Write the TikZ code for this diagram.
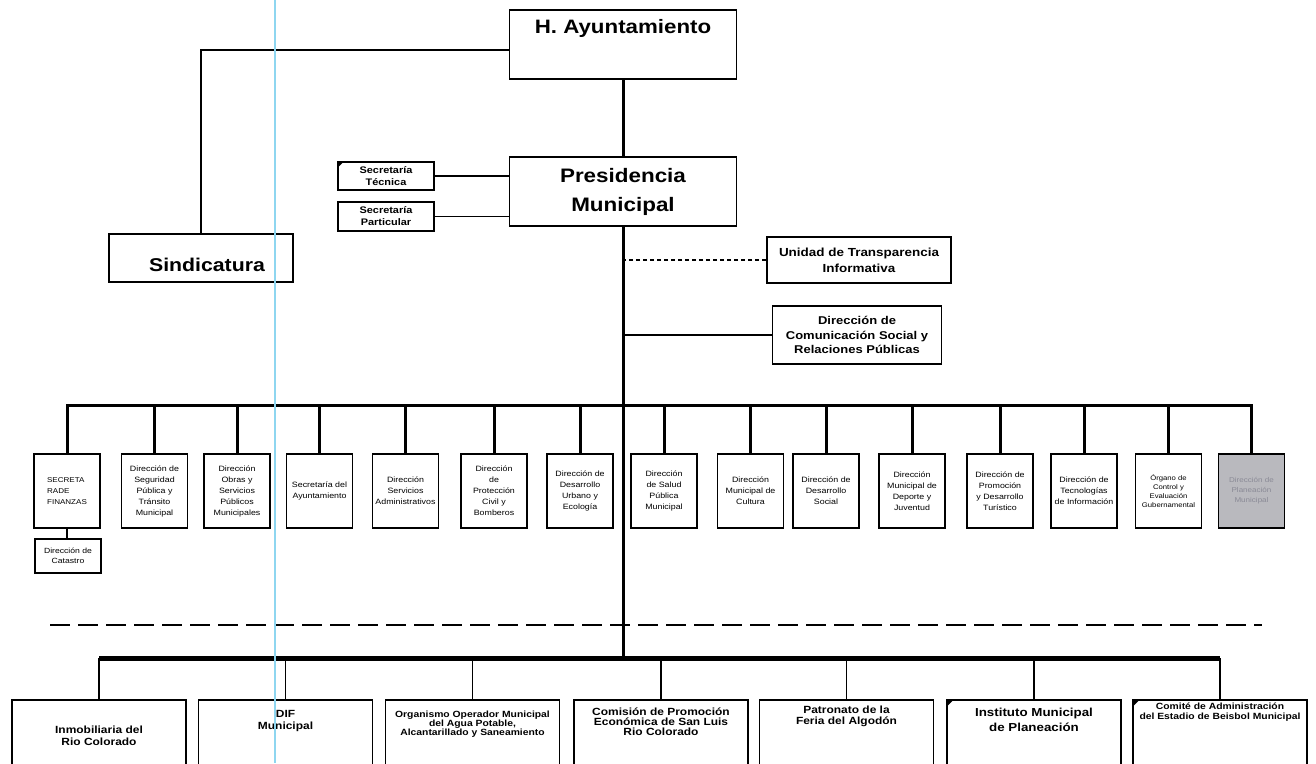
\documentclass[tikz,border=0pt]{standalone}
\usepackage{fontspec}
\setmainfont{Liberation Sans}[FakeStretch=1.15]
\definecolor{planfill}{HTML}{B9B9BE}
\definecolor{plantext}{HTML}{8A8A96}
\definecolor{scanblue}{HTML}{8ED6F0}

\begin{document}
\begin{tikzpicture}[x=1pt,y=-1pt,
    box/.style={draw,line width=1.6pt,inner sep=0pt,align=center},
    rowbox/.style={box,minimum width=66pt,minimum height=74pt,font=\fontsize{7.7}{11}\selectfont},
    parabox/.style={box,minimum width=174pt,minimum height=100pt},
    paratext/.style={anchor=north,inner sep=0pt,align=center,font=\bfseries\fontsize{10.4}{11.5}\selectfont},
    thickline/.style={line width=3pt},
    thinline/.style={line width=1.3pt}]

\useasboundingbox (0,0) rectangle (1316,763);
\clip (0,0) rectangle (1316,763);

% upper part
\node[box,minimum width=227pt,minimum height=69pt,
  label={[anchor=north,yshift=-10pt,inner sep=0pt,font=\bfseries\fontsize{19.4}{23}\selectfont]north:H. Ayuntamiento}] (ayto) at (623,44.5) {};
\node[box,minimum width=227pt,minimum height=69pt,font=\bfseries\fontsize{19.5}{29}\selectfont] (presi) at (623,191.5) {Presidencia\\Municipal};
\node[box,minimum width=184pt,minimum height=48pt,
  label={[xshift=6pt,yshift=-7pt,inner sep=0pt,font=\bfseries\fontsize{18.5}{22}\selectfont]center:Sindicatura}] (sind) at (201,258) {};
\node[box,minimum width=96pt,minimum height=28pt,font=\bfseries\fontsize{9.5}{12}\selectfont] (sectec) at (386,176) {Secretaría\\Técnica};
\node[box,minimum width=96pt,minimum height=29pt,font=\bfseries\fontsize{9.5}{12}\selectfont] (secpart) at (386,216.5) {Secretaría\\Particular};
\node[box,minimum width=184pt,minimum height=46pt,font=\bfseries\fontsize{11.7}{16}\selectfont] (transp) at (859,260) {Unidad de Transparencia\\Informativa};
\node[box,minimum width=169pt,minimum height=58pt,font=\bfseries\fontsize{11.3}{14.5}\selectfont] (comsoc) at (857,335) {Dirección de\\Comunicación Social y\\Relaciones Públicas};
\fill (sectec.north west) -- ++(7,0) -- ++(-7,7) -- cycle;

\draw[thinline] ([yshift=-5.5pt]ayto.west) -| (sind.north);
\draw[thinline] (sectec.east) -- (sectec.east -| presi.west);
\draw[thinline] (secpart.east) -- (secpart.east -| presi.west);
\draw[thickline] (ayto) -- (presi);
\draw[line width=1.1pt,dash pattern=on 4pt off 3pt] (transp.west) -- (transp.west -| presi.south);
\draw[line width=1.1pt] (comsoc.west) -- (comsoc.west -| presi.south);

% direcciones
\node[rowbox,align=left,font=\fontsize{7}{11}\selectfont] (dir1) at (67,491) {SECRETA\\RADE\\FINANZAS};
\foreach \i/\x/\txt in {
    2/154.5/{Dirección de\\Seguridad\\Pública y\\Tránsito\\Municipal},
    3/237/{Dirección\\Obras y\\Servicios\\Públicos\\Municipales},
    4/319.5/{Secretaría del\\Ayuntamiento},
    5/405.5/{Dirección\\Servicios\\Administrativos},
    6/494/{Dirección\\de\\Protección\\Civil y\\Bomberos},
    7/580/{Dirección de\\Desarrollo\\Urbano y\\Ecología},
    8/664/{Dirección\\de Salud\\Pública\\Municipal},
    9/750.5/{Dirección\\Municipal de\\Cultura},
    10/826/{Dirección de\\Desarrollo\\Social},
    11/912/{Dirección\\Municipal de\\Deporte y\\Juventud},
    12/1000/{Dirección de\\Promoción\\y Desarrollo\\Turístico},
    13/1084/{Dirección de\\Tecnologías\\de Información}}
  \node[rowbox] (dir\i) at (\x,491) {\txt};
\node[rowbox,font=\fontsize{6.7}{9}\selectfont] (dir14) at (1168.5,491) {Órgano de\\Control y\\Evaluación\\Gubernamental};
\node[rowbox,fill=planfill,text=plantext,font=\fontsize{7}{10}\selectfont] (dir15) at (1251.5,491) {Dirección de\\Planeación\\Municipal};
\node[box,minimum width=66pt,minimum height=34pt,font=\fontsize{7.5}{10.5}\selectfont] (catastro) at (68,556) {Dirección de\\Catastro};

\coordinate (bus) at (623,405);
\draw[thickline] (presi) -- (bus);
\draw[thickline] (dir1.north) |- (bus) -| (dir15.north);
\foreach \i in {2,...,14}
  \draw[thickline] (dir\i.north) -- (dir\i.north |- bus);
\draw[line width=2pt] (dir1.south) -- (dir1.south |- catastro.north);

\draw[line width=2.6pt,dash pattern=on 20pt off 8pt] (50,625) -- (1262,625);

% paramunicipales
\node[parabox,label={[paratext,yshift=-27pt]north:{Inmobiliaria del\\Rio Colorado}}] (para1) at (99,750) {};
\node[parabox,label={[paratext,yshift=-11pt,font=\bfseries\fontsize{10.4}{12}\selectfont]north:{DIF\\Municipal}}] (para2) at (285.5,750) {};
\node[parabox,label={[paratext,yshift=-11.5pt,font=\bfseries\fontsize{9}{8.8}\selectfont]north:{Organismo Operador Municipal\\del Agua Potable,\\Alcantarillado y Saneamiento}}] (para3) at (472.5,750) {};
\node[parabox,label={[paratext,yshift=-8pt,font=\bfseries\fontsize{10.4}{10}\selectfont]north:{Comisión de Promoción\\Económica de San Luis\\Rio Colorado}}] (para4) at (661,750) {};
\node[parabox,label={[paratext,yshift=-6.5pt,font=\bfseries\fontsize{10.4}{11}\selectfont]north:{Patronato de la\\Feria del Algodón}}] (para5) at (846.5,750) {};
\node[parabox,label={[paratext,yshift=-9pt,font=\bfseries\fontsize{11.6}{15}\selectfont]north:{Instituto Municipal\\de Planeación}}] (para6) at (1034,750) {};
\node[parabox,label={[paratext,yshift=-3pt,font=\bfseries\fontsize{9}{10}\selectfont]north:{Comité de Administración\\del Estadio de Beisbol Municipal}}] (para7) at (1220,750) {};
\fill (para6.north west) -- ++(8,0) -- ++(-8,8) -- cycle;
\fill (para7.north west) -- ++(8,0) -- ++(-8,8) -- cycle;

\coordinate (lowbus) at (623,658);
\draw[thickline] (bus) -- (lowbus);
\draw[line width=5pt] (para1.north |- lowbus) -- (para7.north |- lowbus);
\foreach \i in {1,...,7}
  \draw[line width=1.6pt] (para\i.north) -- (para\i.north |- lowbus);

\draw[scanblue,line width=1.2pt] (275,0) -- (275,763);
\end{tikzpicture}
\end{document}
